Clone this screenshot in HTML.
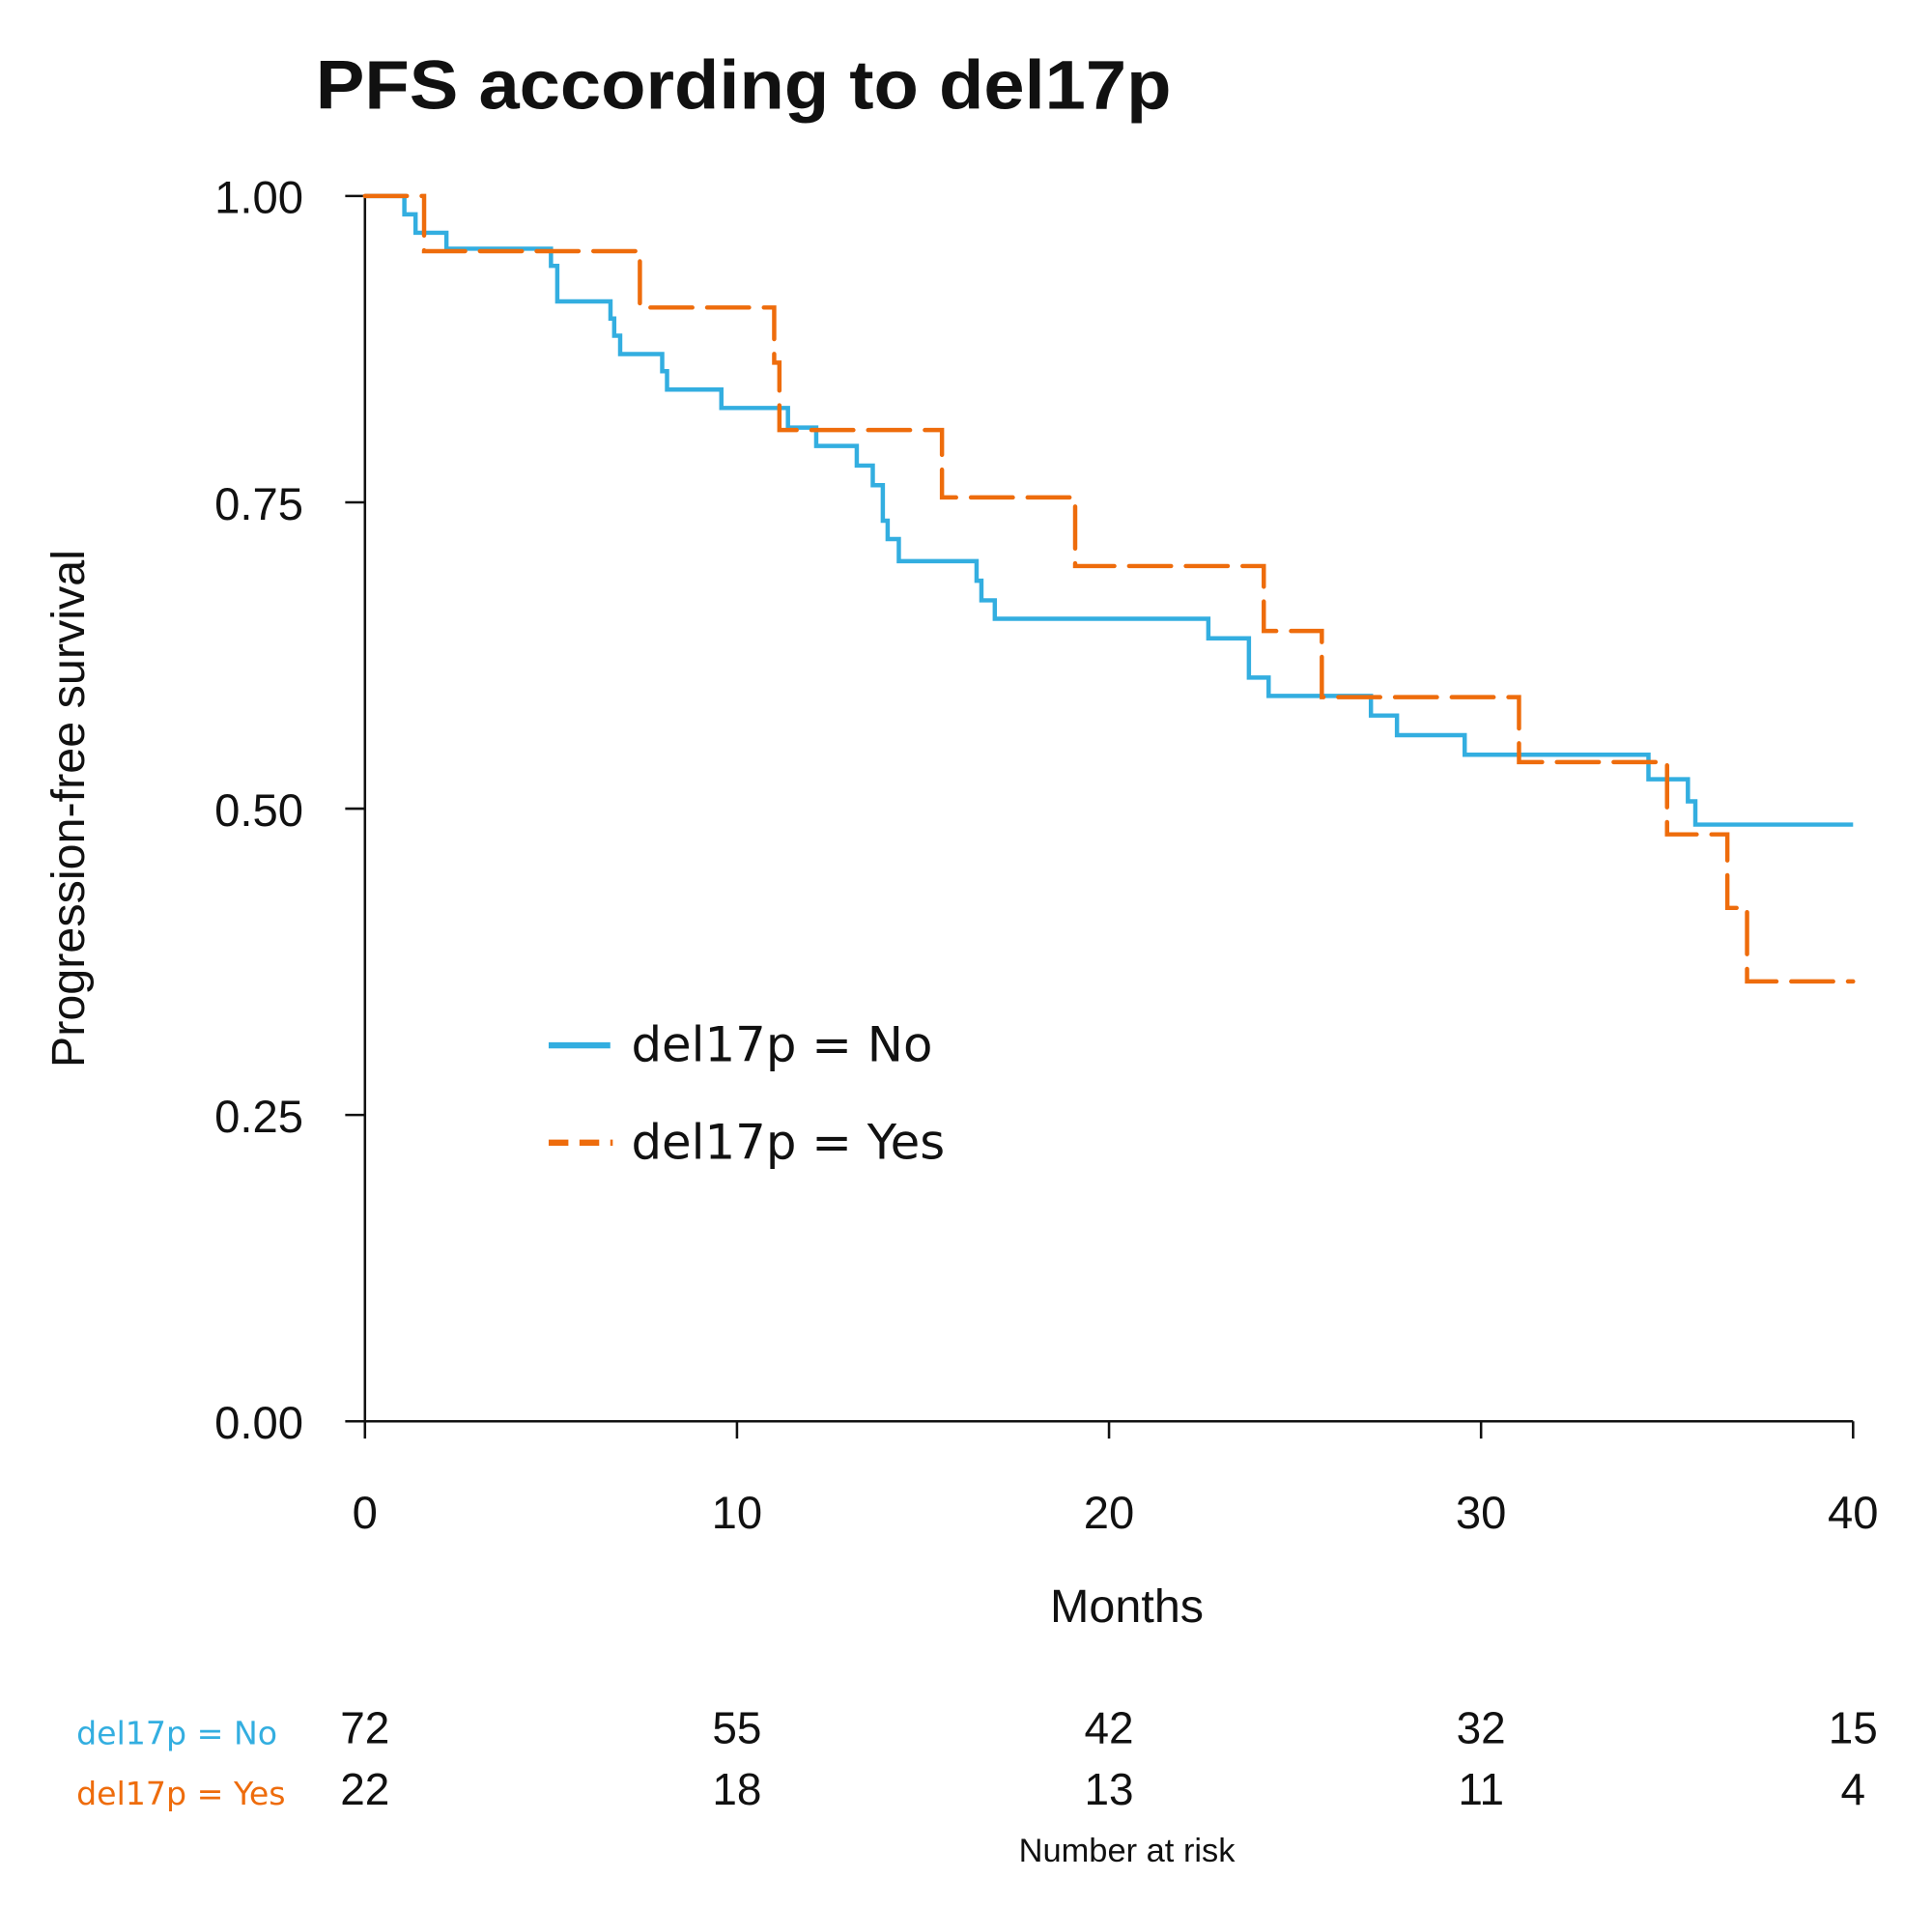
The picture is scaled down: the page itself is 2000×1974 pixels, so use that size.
<!DOCTYPE html>
<html><head><meta charset="utf-8"><style>
html,body{margin:0;padding:0;background:#fff;}
svg{display:block;}
</style></head><body>
<svg id="chart" width="2000" height="1974" viewBox="0 0 1567 1547" preserveAspectRatio="none" xmlns="http://www.w3.org/2000/svg" font-family="'Liberation Sans', sans-serif">
<rect width="1567" height="1547" fill="#fff"/>
<text x="256" y="88" font-size="56" font-weight="bold" fill="#111" textLength="694" lengthAdjust="spacingAndGlyphs">PFS according to del17p</text>
<text transform="translate(68,656) rotate(-90)" text-anchor="middle" font-size="38" fill="#111">Progression-free survival</text>
<text x="914" y="1316" text-anchor="middle" font-size="38" fill="#111">Months</text>
<g id="axes"></g>
<g id="series"></g>
<g>
<line x1="445" y1="848" x2="495" y2="848" stroke="#33AEE0" stroke-width="5"/>
<text x="512" y="861" font-size="39" font-family="'DejaVu Sans', sans-serif" fill="#111">del17p = No</text>
<line x1="445" y1="927" x2="497" y2="927" stroke="#EE6C0C" stroke-width="5" stroke-dasharray="16 9"/>
<text x="512" y="940" font-size="39" font-family="'DejaVu Sans', sans-serif" fill="#111">del17p = Yes</text>
</g>
<text x="62" y="1415" font-size="26" font-family="'DejaVu Sans', sans-serif" fill="#33AEE0">del17p = No</text>
<text x="62" y="1464" font-size="26" font-family="'DejaVu Sans', sans-serif" fill="#EE6C0C">del17p = Yes</text>
<g id="risk"></g>
<text x="914" y="1510" text-anchor="middle" font-size="27" fill="#111">Number at risk</text>
</svg>
<script>
const xTicks = [0, 10, 20, 30, 40];
const yTicks = [0, 0.25, 0.5, 0.75, 1.0];
const yTickLabels = ["0.00", "0.25", "0.50", "0.75", "1.00"];
const noTimes = [0, 1.06, 1.36, 2.19, 5.0, 5.17, 6.6, 6.7, 6.86, 7.99, 8.12, 9.58, 11.37, 12.13, 13.22, 13.65, 13.92, 14.05, 14.35, 16.44, 16.57, 16.93, 22.67, 23.76, 24.29, 27.04, 27.74, 29.56, 34.5, 35.56, 35.76];
const noSurv = [1.0, 0.985, 0.97, 0.957, 0.943, 0.914, 0.9, 0.886, 0.871, 0.857, 0.842, 0.827, 0.811, 0.796, 0.78, 0.764, 0.735, 0.72, 0.702, 0.686, 0.67, 0.655, 0.639, 0.607, 0.592, 0.576, 0.56, 0.544, 0.524, 0.506, 0.487];
const yesTimes = [0, 1.59, 7.39, 11.0, 11.14, 15.51, 19.09, 24.16, 25.72, 31.02, 35.0, 36.62, 37.15];
const yesSurv = [1.0, 0.955, 0.909, 0.864, 0.809, 0.754, 0.698, 0.645, 0.591, 0.538, 0.479, 0.419, 0.359];
const riskNo = [72, 55, 42, 32, 15];
const riskYes = [22, 18, 13, 11, 4];
const xMax = 40;

const NS = "http://www.w3.org/2000/svg";
const X0 = 296, X1 = 1503, Y0 = 1153, Y1 = 159;
function sx(t){ return X0 + (t / xMax) * (X1 - X0); }
function sy(v){ return Y0 - v * (Y0 - Y1); }
function mk(tag, attrs, parent){
  const e = document.createElementNS(NS, tag);
  for (const k in attrs) e.setAttribute(k, attrs[k]);
  parent.appendChild(e);
  return e;
}
const axes = document.getElementById('axes');
const yAxis = mk('line', {x1:X0, y1:Y1, x2:X0, y2:Y0, stroke:'#111', 'stroke-width':2}, axes);


const xAxis = mk('line', {x1:X0, y1:Y0, x2:X1, y2:Y0, stroke:'#111', 'stroke-width':2}, axes);


xTicks.forEach((t) => {
  const tk = mk('line', {x1:sx(t), y1:Y0, x2:sx(t), y2:Y0+14, stroke:'#111', 'stroke-width':2}, axes);
  
  
  const lb = mk('text', {x:sx(t), y:1240, 'text-anchor':'middle', 'font-size':37, fill:'#111'}, axes);
  lb.textContent = t;
  
  
});
yTicks.forEach((v, i) => {
  const tk = mk('line', {x1:X0-16, y1:sy(v), x2:X0, y2:sy(v), stroke:'#111', 'stroke-width':2}, axes);
  
  
  const lb = mk('text', {x:246, y:sy(v)+14, 'text-anchor':'end', 'font-size':37, fill:'#111'}, axes);
  lb.textContent = yTickLabels[i];
  
  
});
function stepPath(times, surv){
  let d = 'M' + sx(times[0]) + ' ' + sy(surv[0]);
  for (let i = 1; i < times.length; i++){
    d += ' H' + sx(times[i]) + ' V' + sy(surv[i]);
  }
  d += ' H' + sx(xMax);
  return d;
}
const series = document.getElementById('series');
const pNo = mk('path', {d:stepPath(noTimes, noSurv), fill:'none', stroke:'#33AEE0', 'stroke-width':3.5}, series);


const pYes = mk('path', {d:stepPath(yesTimes, yesSurv), fill:'none', stroke:'#EE6C0C', 'stroke-width':3.5, 'stroke-dasharray':'34 12', 'stroke-linecap':'round'}, series);


const risk = document.getElementById('risk');
xTicks.forEach((t, i) => {
  const a = mk('text', {x:sx(t), y:1414, 'text-anchor':'middle', 'font-size':36, fill:'#111'}, risk);
  a.textContent = riskNo[i];
  
  
  const b = mk('text', {x:sx(t), y:1464, 'text-anchor':'middle', 'font-size':36, fill:'#111'}, risk);
  b.textContent = riskYes[i];
  
  
});
</script>
</body></html>
